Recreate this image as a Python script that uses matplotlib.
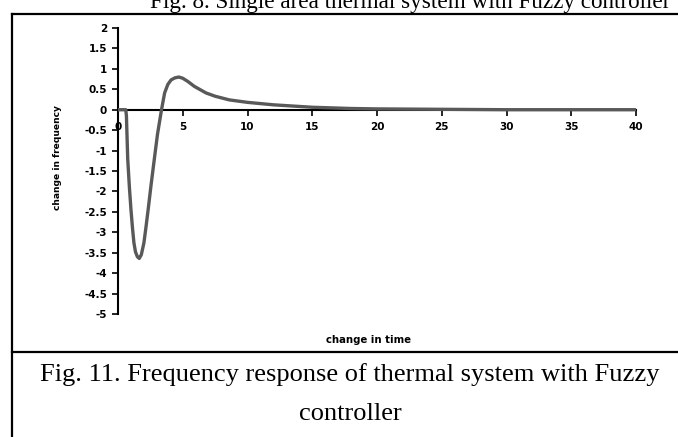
import numpy as np
import matplotlib.pyplot as plt

# readings
time_vals = [0, 0.3, 0.6, 0.65, 0.75, 0.88, 1.0, 1.12, 1.23, 1.35, 1.5, 1.64, 1.8, 2.0, 2.15, 2.33,
             2.55, 2.8, 3.05, 3.36, 3.6, 3.85, 4.1, 4.4, 4.7, 5.0, 5.4, 5.9, 6.8, 7.5, 8.6,
             10, 12, 15, 18, 20, 25, 30, 35, 40]
freq_vals = [0, 0, 0, -0.15, -1.2, -1.9, -2.44, -2.9, -3.26, -3.48, -3.6, -3.64, -3.55, -3.26, -2.9, -2.44,
             -1.85, -1.22, -0.6, 0, 0.41, 0.62, 0.73, 0.78, 0.8, 0.77, 0.69, 0.57, 0.41, 0.33, 0.24,
             0.18, 0.12, 0.06, 0.03, 0.02, 0.01, 0.0, 0.0, 0.0]

x_ticks = [0, 5, 10, 15, 20, 25, 30, 35, 40]
y_ticks = [2, 1.5, 1, 0.5, 0, -0.5, -1, -1.5, -2, -2.5, -3, -3.5, -4, -4.5, -5]

fig = plt.figure(figsize=(6.78, 4.37), dpi=100)
ax = fig.add_axes([118/678, 1-314/437, 518/678, 286/437])

ax.plot(time_vals, freq_vals, color="#595959", lw=2.4, solid_capstyle="round", zorder=3)

ax.set_xlim(0, 40)
ax.set_ylim(-5, 2)
ax.spines["top"].set_visible(False)
ax.spines["right"].set_visible(False)
ax.spines["left"].set_linewidth(1.5)
ax.spines["bottom"].set_position(("data", 0))
ax.spines["bottom"].set_linewidth(1.5)
ax.spines["bottom"].set_zorder(2)

ax.set_xticks(x_ticks)
ax.set_yticks(y_ticks)
ax.set_xticklabels([str(v) for v in x_ticks], fontsize=7.5, fontweight="bold")
ax.set_yticklabels([f"{v:g}" for v in y_ticks], fontsize=7.5, fontweight="bold")
ax.tick_params(axis="x", direction="out", length=4, width=1.2, pad=5)
ax.tick_params(axis="y", direction="out", length=4, width=1.2, pad=4)

fig.text(58/678, 1-157/437, "change in frequency", rotation=90, ha="center", va="center",
         fontsize=6.6, fontweight="bold")
fig.text(368/678, 1-340/437, "change in time", ha="center", va="center",
         fontsize=7.3, fontweight="bold")

# page frame and captions
serif = "Liberation Serif"
fig.add_artist(plt.Line2D([11.5/678, 11.5/678], [0, 1-14/437], color="black", lw=1.6))
fig.add_artist(plt.Line2D([11.5/678, 1], [1-14/437, 1-14/437], color="black", lw=1.6))
fig.add_artist(plt.Line2D([11.5/678, 1], [1-352/437, 1-352/437], color="black", lw=1.6))

fig.text(410/678, 1-8/437, "Fig. 8. Single area thermal system with Fuzzy controller",
         ha="center", va="baseline", fontsize=16.7, family=serif)
fig.text(350/678, 1-375/437, "Fig. 11. Frequency response of thermal system with Fuzzy",
         ha="center", va="center", fontsize=19, family=serif)
fig.text(350/678, 1-414/437, "controller", ha="center", va="center", fontsize=19, family=serif)

fig.savefig("out.png", dpi=100)
